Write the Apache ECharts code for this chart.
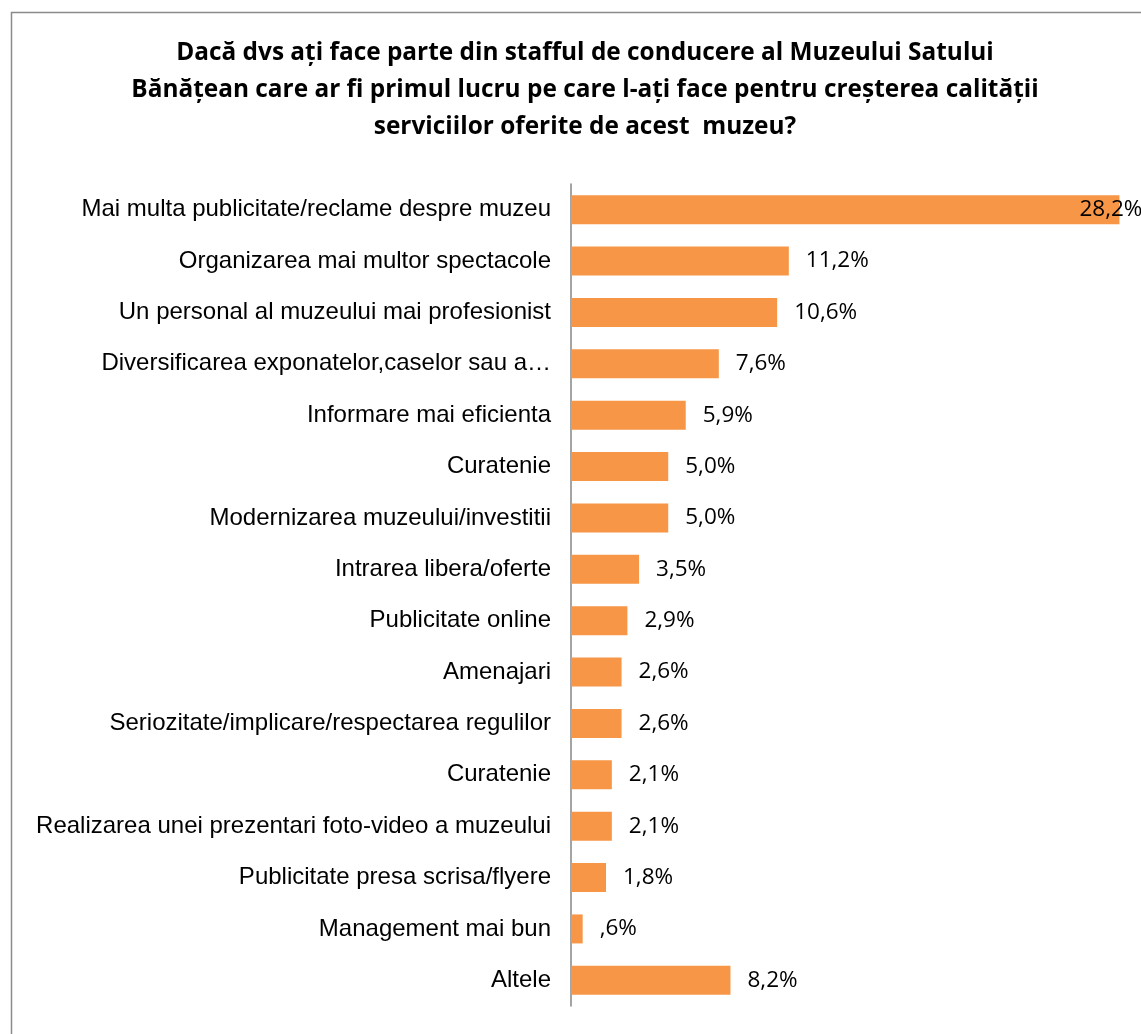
<!DOCTYPE html>
<html>
<head>
<meta charset="utf-8">
<script src="https://cdn.jsdelivr.net/npm/echarts@6/dist/echarts.min.js"></script>
<style>html,body{margin:0;padding:0;background:#fff}#c{width:1141px;height:1034px}</style>
</head>
<body>
<div id="c"></div>
<script>
const titleText = "Dacă dvs ați face parte din stafful de conducere al Muzeului Satului\nBănățean care ar fi primul lucru pe care l-ați face pentru creșterea calității\nserviciilor oferite de acest  muzeu?";
const categories = [
  "Mai multa publicitate/reclame despre muzeu",
  "Organizarea mai multor spectacole",
  "Un personal al muzeului mai profesionist",
  "Diversificarea exponatelor,caselor sau a…",
  "Informare mai eficienta",
  "Curatenie",
  "Modernizarea muzeului/investitii",
  "Intrarea libera/oferte",
  "Publicitate online",
  "Amenajari",
  "Seriozitate/implicare/respectarea regulilor",
  "Curatenie",
  "Realizarea unei prezentari foto-video a muzeului",
  "Publicitate presa scrisa/flyere",
  "Management mai bun",
  "Altele"
];
const values = [28.2, 11.2, 10.6, 7.6, 5.9, 5.0, 5.0, 3.5, 2.9, 2.6, 2.6, 2.1, 2.1, 1.8, 0.6, 8.2];

function fmt(v){
  let s = v.toFixed(1).replace('.', ',');
  if (s.startsWith('0')) s = s.slice(1);
  return s + '%';
}

const chart = echarts.init(document.getElementById('c'));
chart.setOption({
  animation: false,
  graphic: [{
    type: 'rect', left: 9, top: 10, shape: {width: 1300, height: 1200},
    style: {fill: 'none', stroke: '#8a8a8a', lineWidth: 1.5}, silent: true
  }],
  title: {
    text: titleText, left: 580, top: 30, textAlign: 'center',
    textStyle: {fontFamily: 'Open Sans', fontWeight: 'bold', fontSize: 24.4, lineHeight: 37, color: '#000'}
  },
  grid: {left: 571, right: 6, top: 184, bottom: 28, containLabel: false},
  xAxis: {type: 'value', min: 0, max: 29, show: false},
  yAxis: {
    type: 'category', data: categories, inverse: true,
    axisLine: {lineStyle: {color: '#868686', width: 1.5}},
    axisTick: {show: false},
    axisLabel: {fontFamily: 'Liberation Sans', fontSize: 24, color: '#000', margin: 20}
  },
  series: [{
    type: 'bar', barWidth: 29,
    itemStyle: {color: '#F79646'},
    data: values.map((v, i) => i === 0 ? {
      value: v,
      label: {position: 'insideRight', distance: 0, offset: [23, 0]}
    } : v),
    label: {
      show: true, position: 'right', distance: 17,
      fontFamily: 'Open Sans', fontSize: 22.5, color: '#000',
      formatter: p => fmt(p.value)
    }
  }]
});
</script>
</body>
</html>
